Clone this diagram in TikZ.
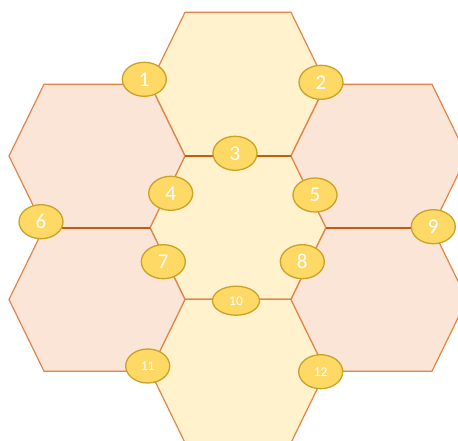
\documentclass[tikz,border=0pt]{standalone}
\usepackage{fontspec}
\setmainfont{Carlito}
\usetikzlibrary{shapes.geometric}
\definecolor{hexline}{RGB}{226,132,72}
\definecolor{hexthick}{RGB}{197,90,17}
\definecolor{yellowfill}{RGB}{255,242,204}
\definecolor{pinkfill}{RGB}{251,229,214}
\definecolor{bubfill}{RGB}{255,217,102}
\definecolor{bubline}{RGB}{201,162,39}
\tikzset{
  hexa/.pic={\path[pic actions] (-88,0) -- (-53,-71.7) -- (53,-71.7) -- (88,0) -- (53,71.7) -- (-53,71.7) -- cycle;},
  yhex/.style={fill=yellowfill, draw=hexline, line width=1.2pt, line join=miter},
  phex/.style={fill=pinkfill, draw=hexline, line width=1.2pt, line join=miter},
  seam/.style={draw=hexthick, line width=2.2pt},
  bub/.style={ellipse, fill=bubfill, draw=bubline, line width=1.3pt, inner sep=0pt,
    minimum width=44pt, minimum height=34pt, text=white, font=\fontsize{21}{21}\selectfont},
  bubs/.style={bub, font=\fontsize{13.5}{13.5}\selectfont},
}
\begin{document}
\begin{tikzpicture}[x=1pt,y=-1pt]
\useasboundingbox (0,0) rectangle (458,441);
\clip (0,0) rectangle (458,441);
% centre column
\pic[yhex] at (238,84) {hexa};
\pic[yhex] at (238,227.5) {hexa};
\pic[yhex] at (238,371) {hexa};
% side columns
\pic[phex] at (97,156) {hexa};
\pic[phex] at (97,299.5) {hexa};
\pic[phex] at (379,156) {hexa};
\pic[phex] at (379,299.5) {hexa};
% thick seams
\draw[seam] (185,155.7) -- (291,155.7);
\draw[seam] (44,227.7) -- (150,227.7);
\draw[seam] (326,227.7) -- (432,227.7);
% bubbles
\node[bub] (n1) at (144.3,79.3) {1};
\node[bub] (n2) at (321,82.3) {2};
\node[bub] (n3) at (235,153.3) {3};
\node[bub] (n4) at (170.7,193.3) {4};
\node[bub] (n5) at (315,195) {5};
\node[bub] (n6) at (41,221.7) {6};
\node[bub] (n7) at (163.3,261.7) {7};
\node[bub] (n8) at (302.3,261.7) {8};
\node[bub] (n9) at (433.3,226.7) {9};
\node[bubs, minimum width=47pt, minimum height=29pt] (n10) at (236,300.7) {10};
\node[bubs] (n11) at (147.7,366) {11};
\node[bubs] (n12) at (320.7,371.7) {12};
\end{tikzpicture}
\end{document}
